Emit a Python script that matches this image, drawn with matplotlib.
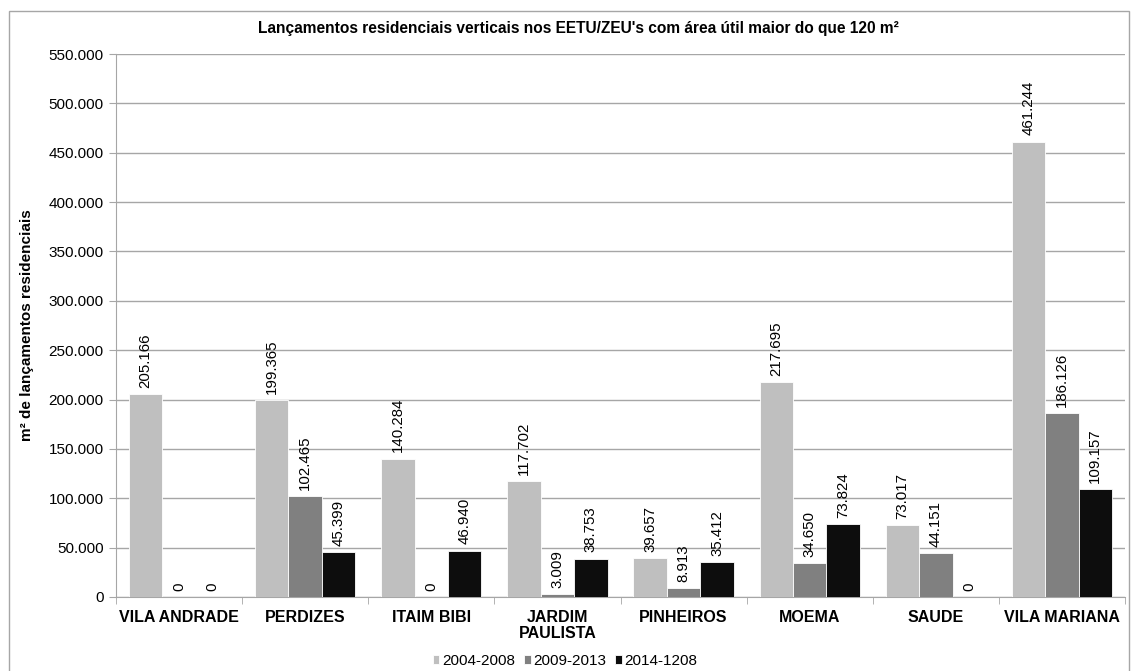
import matplotlib
matplotlib.use("Agg")
import matplotlib.pyplot as plt
from matplotlib.patches import Rectangle
import numpy as np

plt.rcParams['font.family'] = ['Liberation Sans', 'DejaVu Sans']

categories = ["VILA ANDRADE", "PERDIZES", "ITAIM BIBI", "JARDIM\nPAULISTA",
              "PINHEIROS", "MOEMA", "SAUDE", "VILA MARIANA"]
series_names = ["2004-2008", "2009-2013", "2014-1208"]
s2004 = [205166, 199365, 140284, 117702, 39657, 217695, 73017, 461244]
s2009 = [0, 102465, 0, 3009, 8913, 34650, 44151, 186126]
s2014 = [0, 45399, 46940, 38753, 35412, 73824, 0, 109157]
colors = ["#bfbfbf", "#808080", "#0d0d0d"]
yticks = list(range(0, 550001, 50000))

def fmt(v):
    return f"{v:,}".replace(",", ".")

fig = plt.figure(figsize=(11.31, 6.71), dpi=100)
ax = fig.add_axes([116/1131, 1-597/671, (1125-116)/1131, (597-54)/671])

x = np.arange(len(categories))
w = 0.265
for i, (vals, c, name) in enumerate(zip([s2004, s2009, s2014], colors, series_names)):
    pos = x + (i-1)*w
    ax.bar(pos, vals, width=w, color=c, edgecolor="white", linewidth=0.6, label=name, zorder=3)
    for p, v in zip(pos, vals):
        ax.annotate(fmt(v), (p, v), xytext=(0, 4.5), textcoords="offset points",
                    rotation=90, ha="center", va="bottom",
                    fontsize=10.8, color="#000000", zorder=4)

ax.set_xlim(-0.5, len(categories)-0.5)
ax.set_ylim(0, 550000)
ax.set_yticks(yticks)
ax.set_yticklabels([fmt(t) for t in yticks], fontsize=11)
ax.yaxis.grid(True, color="#a6a6a6", linewidth=1, zorder=0)
ax.set_axisbelow(True)
ax.set_xticks(x)
ax.set_xticklabels(categories, fontsize=11.5, fontweight="bold", linespacing=1.15)
ax.set_xticks(np.arange(-0.5, len(categories), 1), minor=True)
ax.tick_params(axis="x", which="major", length=0, pad=9)
ax.tick_params(axis="x", which="minor", length=5, color="#a6a6a6")
ax.tick_params(axis="y", length=5, color="#a6a6a6", pad=4)
for s in ["top", "right"]:
    ax.spines[s].set_visible(False)
for s in ["left", "bottom"]:
    ax.spines[s].set_color("#a6a6a6")

ax.set_ylabel("m² de lançamentos residenciais", fontsize=11, fontweight="bold", labelpad=10)
fig.text(578/1131, 1-29/671, "Lançamentos residenciais verticais nos EETU/ZEU's com área útil maior do que 120 m²",
         ha="center", va="center", fontsize=11.2, fontweight="bold")

leg = fig.legend(loc="center", bbox_to_anchor=(565/1131, 1-661/671), ncol=3, frameon=False,
                 fontsize=11, handlelength=0.45, handleheight=0.45, handletextpad=0.15,
                 columnspacing=0.6)

fig.patches.append(Rectangle((9/1131, -0.01), (1129-9)/1131, 1-11/671+0.01,
                             transform=fig.transFigure, fill=False,
                             edgecolor="#a6a6a6", linewidth=1))

fig.savefig("out.png", dpi=100)
